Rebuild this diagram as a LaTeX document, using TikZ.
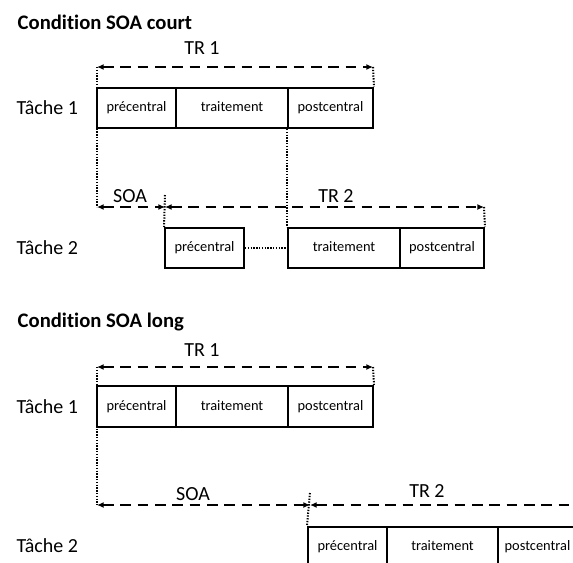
\documentclass[tikz,border=0pt]{standalone}
\usepackage{fontspec}
\setmainfont{Carlito}[Ligatures=NoCommon]
\usetikzlibrary{arrows.meta}
\begin{document}
\begin{tikzpicture}[x=0.75pt,y=-0.75pt,
  box/.style={draw,line width=1.5pt,inner sep=0pt,minimum height=30pt,
    text height=7.5pt,text depth=2.2pt,font=\fontsize{10.8}{12}\selectfont},
  lbl/.style={font=\fontsize{15}{18}\selectfont},
  ttl/.style={font=\bfseries\fontsize{15.5}{18}\selectfont,anchor=west},
  span/.style={line width=1.5pt,dash pattern=on 8pt off 5pt,
    {Latex[length=5pt,width=4.5pt]}-{Latex[length=5pt,width=4.5pt]}},
  guide/.style={line width=1.5pt,dash pattern=on 1pt off 1.1pt}]
\useasboundingbox (0,0) rectangle (573,562);
\clip (0,0) rectangle (573,562);

% ---------- Condition SOA court ----------
\node[ttl] (t1) at (13,22) {Condition SOA court};
\node[lbl,anchor=west] (k11) at (12,108) {Tâche 1};
\node[lbl,anchor=west] (k12) at (12,248) {Tâche 2};

\node[box,minimum width=59.25pt] (a1) at (136.5,108) {précentral};
\node[box,minimum width=84pt] (b1) at (232,108) {traitement};
\node[box,minimum width=63.75pt] (c1) at (330.5,108) {postcentral};

\coordinate (r1s) at (97,67);
\coordinate (r1e) at (373,67);
\coordinate (s1e) at (165,207);
\coordinate (s1s) at (97,207);
\coordinate (s1top) at (165,195);
\coordinate (r2e) at (484,207);

\node[box,minimum width=59.25pt] (a2) at (204.5,248) {précentral};
\node[box,minimum width=84pt] (b2) at (344,248) {traitement};
\node[box,minimum width=63pt] (c2) at (442,248) {postcentral};

\draw[guide] (r1s) -- (s1s);
\draw[guide] (r1e) -- (c1.north east);
\draw[guide] (c1.south west) -- (b2.north west);
\draw[guide] (s1top) -- (a2.north west);
\draw[guide] (r2e) -- (c2.north east);
\draw[guide] (a2.east) -- (b2.west);

\draw[span] (r1s) -- (r1e);
\draw[span] (s1s) -- (s1e);
\draw[span] (s1e) -- (r2e);
\node[lbl] (lt1) at (202,48) {TR 1};
\node[lbl] (ls1) at (130,196) {SOA};
\node[lbl] (lt2) at (336,196) {TR 2};

% ---------- Condition SOA long ----------
\node[ttl] (t2) at (13,322) {Condition SOA long};
\node[lbl,anchor=west] (k21) at (12,407) {Tâche 1};
\node[lbl,anchor=west] (k22) at (12,546) {Tâche 2};

\node[box,minimum width=59.25pt,minimum height=30.75pt] (d1) at (136.5,406.5) {précentral};
\node[box,minimum width=84pt,minimum height=30.75pt] (e1) at (232,406.5) {traitement};
\node[box,minimum width=63.75pt,minimum height=30.75pt] (f1) at (330.5,406.5) {postcentral};

\coordinate (q1s) at (97,367);
\coordinate (q1e) at (373,367);
\coordinate (u1s) at (97,505);
\coordinate (u1e) at (310,505);
\coordinate (u1top) at (310,493);
\coordinate (q2e) at (610,505);

\node[box,minimum width=59.25pt] (d2) at (347.5,547) {précentral};
\node[box,minimum width=83.25pt] (e2) at (442.5,547) {traitement};
\node[box,minimum width=59.25pt] (f2) at (537.5,547) {postcentral};

\draw[guide] (q1s) -- (u1s);
\draw[guide] (q1e) -- (f1.north east);
\draw[guide] (u1top) -- (d2.north west);

\draw[span] (q1s) -- (q1e);
\draw[span] (u1s) -- (u1e);
\draw[span] (u1e) -- (q2e);
\node[lbl] (lq1) at (202,350) {TR 1};
\node[lbl] (lu1) at (193,494) {SOA};
\node[lbl] (lq2) at (427,491) {TR 2};
\end{tikzpicture}
\end{document}
